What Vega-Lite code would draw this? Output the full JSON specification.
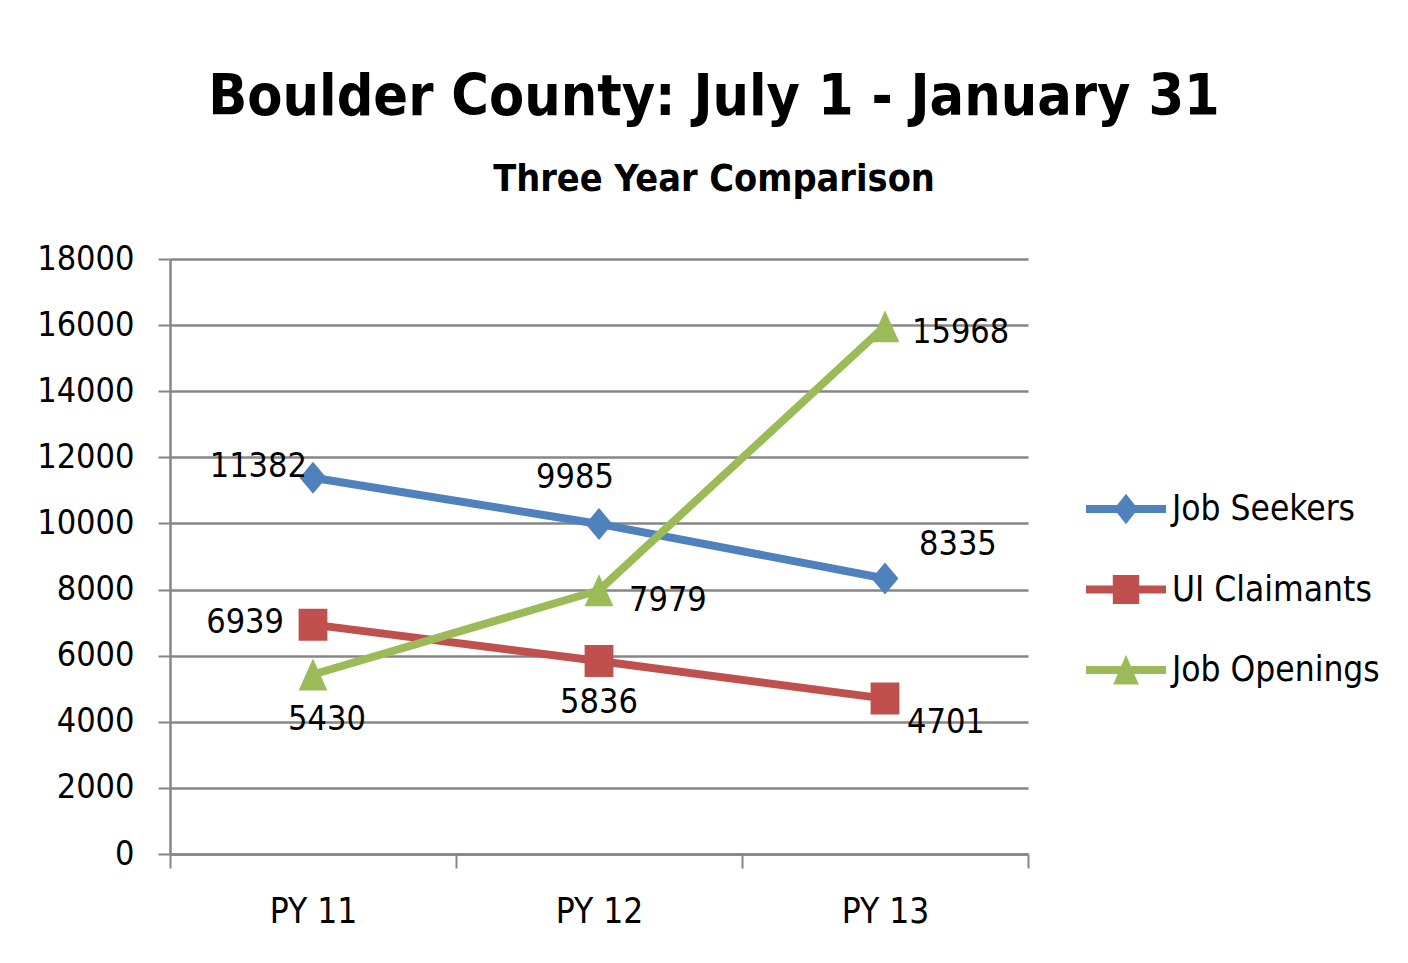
{
  "$schema": "https://vega.github.io/schema/vega-lite/v6.json",
  "autosize": {"type": "none"},
  "width": 858,
  "height": 595,
  "padding": {"left": 170, "top": 259, "right": 380, "bottom": 109},
  "background": "white",
  "config": {
    "font": "DejaVu Sans Condensed, DejaVu Sans, sans-serif",
    "view": {"stroke": null}
  },
  "title": {
    "text": "Boulder County: July 1 - January 31",
    "subtitle": "Three Year Comparison",
    "anchor": "middle",
    "frame": "group",
    "dx": 115,
    "offset": 43,
    "font": "DejaVu Sans Condensed, DejaVu Sans, sans-serif",
    "fontSize": 57,
    "fontWeight": "bold",
    "color": "black",
    "subtitleFont": "DejaVu Sans Condensed, DejaVu Sans, sans-serif",
    "subtitleFontSize": 37.5,
    "subtitleFontWeight": "bold",
    "subtitleColor": "black",
    "subtitlePadding": 34
  },
  "data": {
    "values": [
      {"series": "Job Seekers", "period": "PY 11", "value": 11382},
      {"series": "Job Seekers", "period": "PY 12", "value": 9985},
      {"series": "Job Seekers", "period": "PY 13", "value": 8335},
      {"series": "UI Claimants", "period": "PY 11", "value": 6939},
      {"series": "UI Claimants", "period": "PY 12", "value": 5836},
      {"series": "UI Claimants", "period": "PY 13", "value": 4701},
      {"series": "Job Openings", "period": "PY 11", "value": 5430},
      {"series": "Job Openings", "period": "PY 12", "value": 7979},
      {"series": "Job Openings", "period": "PY 13", "value": 15968}
    ]
  },
  "encoding": {
    "x": {
      "field": "period",
      "type": "nominal",
      "sort": ["PY 11", "PY 12", "PY 13"],
      "scale": {"type": "band", "paddingInner": 0, "paddingOuter": 0},
      "axis": {
        "title": null,
        "labelAngle": 0,
        "labelFontSize": 35,
        "labelColor": "black",
        "labelPadding": 26,
        "tickBand": "extent",
        "tickSize": 14,
        "tickColor": "#868686",
        "tickWidth": 2,
        "domainColor": "#868686",
        "domainWidth": 2.5,
        "grid": false
      }
    },
    "y": {
      "field": "value",
      "type": "quantitative",
      "scale": {"domain": [0, 18000], "nice": false},
      "axis": {
        "title": null,
        "values": [0, 2000, 4000, 6000, 8000, 10000, 12000, 14000, 16000, 18000],
        "format": "d",
        "labelFontSize": 34,
        "labelColor": "black",
        "labelPadding": 24,
        "tickSize": 12,
        "tickColor": "#868686",
        "tickWidth": 2,
        "domainColor": "#868686",
        "domainWidth": 2.5,
        "grid": true,
        "gridColor": "#868686",
        "gridWidth": 2.5
      }
    }
  },
  "layer": [
    {
      "mark": {"type": "line", "strokeWidth": 8, "strokeJoin": "round", "strokeCap": "round"},
      "encoding": {
        "color": {
          "field": "series",
          "type": "nominal",
          "scale": {
            "domain": ["Job Seekers", "UI Claimants", "Job Openings"],
            "range": ["#4F81BD", "#C0504D", "#9BBB59"]
          },
          "legend": {
            "orient": "none",
            "legendX": 916,
            "legendY": 210,
            "title": null,
            "padding": 0,
            "rowPadding": 22.5,
            "labelFontSize": 35,
            "labelColor": "black",
            "labelOffset": 6,
            "labelLimit": 400,
            "symbolSize": 6400,
            "symbolStrokeWidth": 0,
            "encode": {
              "symbols": {
                "update": {
                  "shape": {"signal": "datum.value === 'Job Seekers' ? 'M-1,-0.1L1,-0.1L1,0.1L-1,0.1Z M0,-0.38L0.3,0L0,0.38L-0.3,0Z' : datum.value === 'UI Claimants' ? 'M-1,-0.1L1,-0.1L1,0.1L-1,0.1Z M-0.33,-0.36L0.33,-0.36L0.33,0.36L-0.33,0.36Z' : 'M-1,-0.1L1,-0.1L1,0.1L-1,0.1Z M0,-0.38L0.32,0.36L-0.32,0.36Z'"},
                  "fill": {"signal": "scale('color', datum.value)"},
                  "fillOpacity": {"value": 1},
                  "strokeWidth": {"value": 0}
                }
              }
            }
          }
        }
      }
    },
    {
      "transform": [{"filter": "datum.series === 'Job Seekers'"}],
      "mark": {"type": "point", "filled": true, "size": 1024, "opacity": 1, "shape": "M0,-1L0.84,0L0,1L-0.84,0Z"},
      "encoding": {"color": {"field": "series", "type": "nominal"}}
    },
    {
      "transform": [{"filter": "datum.series === 'UI Claimants'"}],
      "mark": {"type": "point", "filled": true, "size": 1024, "opacity": 1, "shape": "M-0.9,-1L0.9,-1L0.9,1L-0.9,1Z"},
      "encoding": {"color": {"field": "series", "type": "nominal"}}
    },
    {
      "transform": [{"filter": "datum.series === 'Job Openings'"}],
      "mark": {"type": "point", "filled": true, "size": 1024, "opacity": 1, "shape": "M0,-1L0.9,1L-0.9,1Z"},
      "encoding": {"color": {"field": "series", "type": "nominal"}}
    },
    {
      "transform": [{"filter": "datum.series === 'Job Seekers' && datum.period === 'PY 11'"}],
      "mark": {"type": "text", "fontSize": 34, "color": "black", "align": "right", "baseline": "middle", "dx": -6, "dy": -11},
      "encoding": {"text": {"field": "value", "type": "quantitative", "format": "d"}}
    },
    {
      "transform": [{"filter": "datum.series === 'Job Seekers' && datum.period === 'PY 12'"}],
      "mark": {"type": "text", "fontSize": 34, "color": "black", "align": "center", "baseline": "middle", "dx": -24, "dy": -46},
      "encoding": {"text": {"field": "value", "type": "quantitative", "format": "d"}}
    },
    {
      "transform": [{"filter": "datum.series === 'Job Seekers' && datum.period === 'PY 13'"}],
      "mark": {"type": "text", "fontSize": 34, "color": "black", "align": "left", "baseline": "middle", "dx": 34, "dy": -33},
      "encoding": {"text": {"field": "value", "type": "quantitative", "format": "d"}}
    },
    {
      "transform": [{"filter": "datum.series === 'UI Claimants' && datum.period === 'PY 11'"}],
      "mark": {"type": "text", "fontSize": 34, "color": "black", "align": "right", "baseline": "middle", "dx": -29, "dy": -2},
      "encoding": {"text": {"field": "value", "type": "quantitative", "format": "d"}}
    },
    {
      "transform": [{"filter": "datum.series === 'UI Claimants' && datum.period === 'PY 12'"}],
      "mark": {"type": "text", "fontSize": 34, "color": "black", "align": "center", "baseline": "middle", "dx": 0, "dy": 42},
      "encoding": {"text": {"field": "value", "type": "quantitative", "format": "d"}}
    },
    {
      "transform": [{"filter": "datum.series === 'UI Claimants' && datum.period === 'PY 13'"}],
      "mark": {"type": "text", "fontSize": 34, "color": "black", "align": "left", "baseline": "middle", "dx": 22, "dy": 24},
      "encoding": {"text": {"field": "value", "type": "quantitative", "format": "d"}}
    },
    {
      "transform": [{"filter": "datum.series === 'Job Openings' && datum.period === 'PY 11'"}],
      "mark": {"type": "text", "fontSize": 34, "color": "black", "align": "center", "baseline": "middle", "dx": 14, "dy": 45},
      "encoding": {"text": {"field": "value", "type": "quantitative", "format": "d"}}
    },
    {
      "transform": [{"filter": "datum.series === 'Job Openings' && datum.period === 'PY 12'"}],
      "mark": {"type": "text", "fontSize": 34, "color": "black", "align": "left", "baseline": "middle", "dx": 30, "dy": 11},
      "encoding": {"text": {"field": "value", "type": "quantitative", "format": "d"}}
    },
    {
      "transform": [{"filter": "datum.series === 'Job Openings' && datum.period === 'PY 13'"}],
      "mark": {"type": "text", "fontSize": 34, "color": "black", "align": "left", "baseline": "middle", "dx": 27, "dy": 7},
      "encoding": {"text": {"field": "value", "type": "quantitative", "format": "d"}}
    }
  ]
}
